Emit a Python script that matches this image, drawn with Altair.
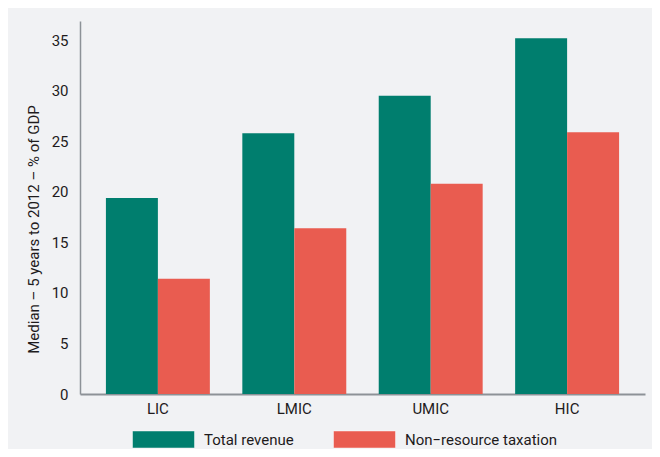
import altair as alt
import pandas as pd

groups = ["LIC", "LMIC", "UMIC", "HIC"]
series = ["Total revenue", "Non\u2212resource taxation"]
total_revenue = [19.4, 25.8, 29.5, 35.2]
non_resource_tax = [11.4, 16.4, 20.8, 25.9]
y_ticks = [0, 5, 10, 15, 20, 25, 30, 35]
colors = ["#007e6e", "#e95c50"]

rows = []
for g, a, b in zip(groups, total_revenue, non_resource_tax):
    rows.append({"group": g, "series": series[0], "value": a})
    rows.append({"group": g, "series": series[1], "value": b})
df = pd.DataFrame(rows)

FONT = "Roboto, Liberation Sans, sans-serif"
TXT = "#1e1b1c"

chart = alt.Chart(df).mark_bar().encode(
    x=alt.X("group:N", sort=groups,
            scale=alt.Scale(paddingInner=0.238, paddingOuter=0.19),
            axis=alt.Axis(title=None, labelAngle=0, ticks=False, labelPadding=7,
                          domainColor="#8d9297", domainWidth=2,
                          labelFont=FONT, labelFontSize=15, labelColor=TXT)),
    xOffset=alt.XOffset("series:N", sort=series, scale=alt.Scale(paddingInner=0, paddingOuter=0)),
    y=alt.Y("value:Q", scale=alt.Scale(domain=[0, 36.9], nice=False),
            axis=alt.Axis(title="Median \u2013 5 years to 2012 \u2013 % of GDP",
                          values=y_ticks, ticks=False, grid=False, labelPadding=12,
                          domainColor="#8d9297", domainWidth=1.5,
                          labelFont=FONT, labelFontSize=15, labelColor=TXT,
                          titleFont=FONT, titleFontSize=15, titleFontWeight="normal",
                          titleColor=TXT, titleAngle=270, titleAlign="center",
                          titleBaseline="middle", titleX=-47, titleY=208)),
    color=alt.Color("series:N", sort=series,
                    scale=alt.Scale(domain=series, range=colors),
                    legend=alt.Legend(title=None, orient="none", direction="horizontal",
                                      legendX=52, legendY=387,
                                      symbolType="M-1,-0.274H1V0.274H-1Z",
                                      symbolSize=3844, symbolStrokeWidth=1,
                                      symbolStrokeColor="rgba(255,255,255,0.45)",
                                      labelFont=FONT, labelFontSize=15, labelColor=TXT,
                                      labelOffset=9, columnPadding=37,
                                      symbolOpacity=1)),
).properties(
    width=565, height=373,
    background="#f1f2f4",
    padding={"left": 72, "top": 13, "right": 7, "bottom": 55},
    autosize=alt.AutoSizeParams(type="none"),
).configure_view(stroke=None)

chart.save("out.html", embed_options={"renderer": "svg", "actions": False})
